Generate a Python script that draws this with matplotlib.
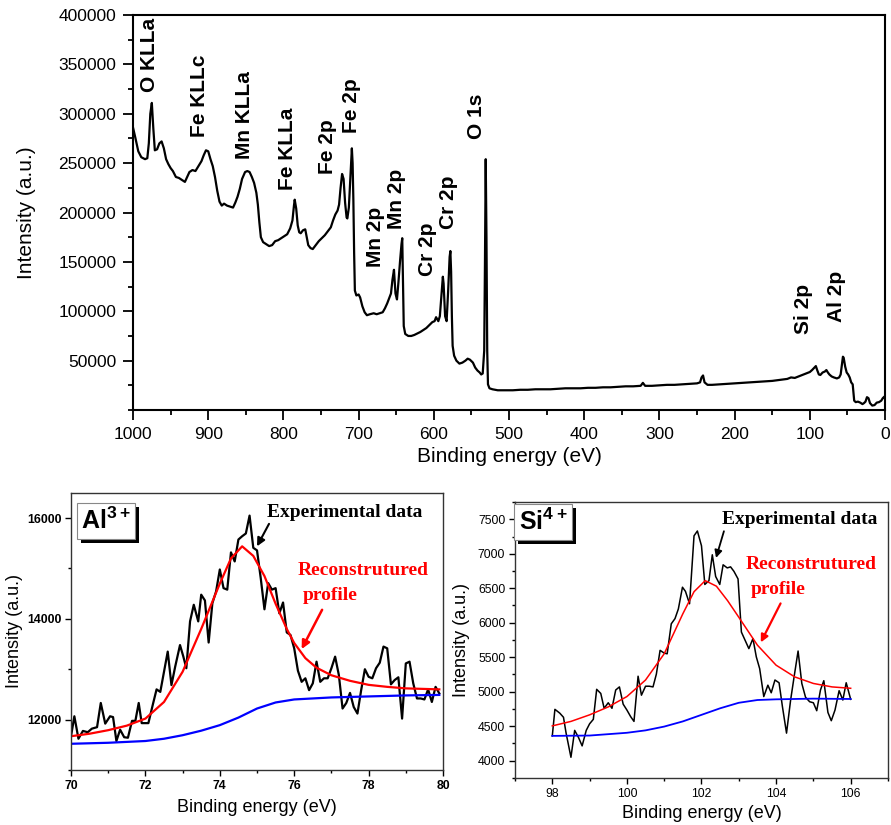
import matplotlib
matplotlib.use('Agg')
import matplotlib.pyplot as plt
from matplotlib.patches import Rectangle
from matplotlib.transforms import IdentityTransform
from matplotlib.ticker import MultipleLocator


plt.rcParams['font.family'] = ['Liberation Sans', 'DejaVu Sans']
plt.rcParams['mathtext.fontset'] = 'custom'
plt.rcParams['mathtext.rm'] = 'Liberation Sans'
plt.rcParams['mathtext.bf'] = 'Liberation Sans:bold'

# espectro survey (energia de ligação em eV, contagens)
survey_be = [
    1000, 997, 993, 989, 984, 981, 979, 977, 975, 973,
    971, 968, 965, 962, 959, 956, 953, 950, 947, 943,
    939, 935, 931, 928, 925, 921, 917, 913, 909, 906,
    903, 900, 897, 894, 891, 888, 885, 882, 879, 875,
    871, 867, 864, 861, 858, 855, 851, 848, 845, 842,
    839, 836, 834, 832, 830, 827, 823, 819, 815, 811,
    807, 803, 799, 795, 791, 788, 786, 785, 783, 781,
    779, 777, 774, 771, 769, 767, 764, 761, 757, 753,
    749, 745, 741, 737, 734, 731, 728, 726, 724, 722,
    720, 718, 716, 715, 713, 711, 709, 708, 707, 706,
    705, 703, 700, 698, 695, 692, 689, 685, 680, 676,
    672, 668, 665, 662, 660, 657, 655, 653, 651, 649,
    647, 645, 643, 642, 641, 640, 638, 634, 630, 626,
    622, 618, 614, 610, 606, 602, 599, 597, 594, 592,
    590, 588, 587, 585, 583, 581, 579, 578, 577, 576,
    575, 573, 570, 566, 562, 558, 555, 552, 548, 545,
    542, 539, 537, 535, 533, 532, 531, 530, 529, 528,
    526, 522, 515, 505, 495, 485, 475, 465, 455, 445,
    435, 425, 415, 405, 395, 385, 375, 365, 355, 345,
    335, 325, 322, 319, 310, 300, 290, 280, 270, 260,
    250, 246, 244, 242, 240, 236, 230, 220, 210, 200,
    190, 180, 170, 160, 150, 140, 130, 125, 120, 115,
    110, 105, 100, 97, 94, 92, 90, 88, 86, 83,
    80, 78, 76, 74, 71, 68, 64, 61, 59, 57,
    56, 55, 53, 51, 49, 47, 45, 43, 42, 41,
    39, 36, 33, 30, 28, 26, 24, 22, 20, 17,
    14, 11, 8, 5, 3, 1, 0,
]
survey_counts = [
    286000, 276000, 262000, 256000, 254000, 255000, 270000, 300000, 311000, 285000,
    263000, 264000, 270000, 272000, 265000, 254000, 249000, 245000, 242000, 236000,
    235000, 233000, 231000, 236000, 241000, 243000, 242000, 247000, 252000, 258000,
    263000, 262000, 254000, 247000, 236000, 222000, 211000, 207000, 209000, 207000,
    206000, 205000, 210000, 216000, 224000, 234000, 241000, 242000, 241000, 236000,
    230000, 220000, 208000, 190000, 175000, 170000, 168000, 166000, 167000, 171000,
    172000, 174000, 176000, 178000, 184000, 192000, 207000, 213000, 204000, 187000,
    180000, 179000, 182000, 183000, 175000, 167000, 164000, 163000, 167000, 171000,
    174000, 177000, 181000, 185000, 192000, 198000, 202000, 208000, 225000, 239000,
    234000, 210000, 195000, 194000, 205000, 235000, 265000, 250000, 213000, 160000,
    121000, 116000, 117000, 114000, 105000, 99000, 96000, 97000, 98000, 97000,
    98000, 99000, 103000, 108000, 112000, 118000, 132000, 142000, 118000, 112000,
    130000, 150000, 168000, 174000, 130000, 85000, 77000, 75000, 75000, 76000,
    77500, 79000, 81000, 83000, 86000, 89000, 90000, 94000, 90000, 95000,
    115000, 135000, 128000, 95000, 90000, 120000, 155000, 161000, 140000, 95000,
    65000, 55000, 50000, 47000, 48000, 50000, 52000, 51000, 48000, 43000,
    40000, 38000, 36000, 37000, 60000, 150000, 254000, 175000, 60000, 26000,
    22000, 21000, 20000, 20000, 20000, 20500, 20500, 21000, 21000, 21000,
    21500, 22000, 22000, 22000, 22500, 22500, 23000, 23000, 23500, 24000,
    24000, 24500, 27500, 24500, 24500, 25000, 25500, 25500, 26000, 26500,
    27000, 28000, 33000, 35000, 28000, 25500, 25500, 26000, 26500, 27000,
    27500, 28000, 28500, 29000, 29500, 30500, 31500, 33000, 32500, 34000,
    35500, 37000, 38500, 40500, 43000, 44500, 40000, 36000, 35500, 38000,
    39000, 40500, 38000, 36000, 34000, 33000, 32000, 33000, 36000, 48000,
    54000, 53000, 44000, 38000, 36000, 33000, 28000, 26000, 18000, 9500,
    8000, 8500, 7500, 6000, 7000, 8500, 13000, 12000, 7000, 4500,
    5000, 7500, 8000, 9500, 12000, 13500, 12000,
]

# rótulos dos picos: texto, energia e altura da base do texto
peak_names = ['O KLLa', 'Fe KLLc', 'Mn KLLa', 'Fe KLLa', 'Fe 2p', 'Fe 2p', 'Mn 2p',
              'Mn 2p', 'Cr 2p', 'Cr 2p', 'O 1s', 'Si 2p', 'Al 2p']
peak_be = [978, 911, 852, 795, 742, 709, 678, 649, 609, 581, 543, 108, 65]
peak_y = [322000, 276000, 254000, 223000, 239000, 281000, 145000, 183000, 136000,
          183000, 274000, 77000, 89000]

# Al 2p - dados experimentais
al_be = [
    70.0, 70.09, 70.2, 70.32, 70.45, 70.56, 70.7, 70.8, 70.92, 71.05,
    71.13, 71.22, 71.32, 71.43, 71.53, 71.64, 71.73, 71.82, 71.9, 72.08,
    72.2, 72.3, 72.4, 72.5, 72.6, 72.7, 72.8, 72.93, 73.02, 73.1,
    73.2, 73.3, 73.42, 73.5, 73.6, 73.7, 73.8, 73.9, 74.0, 74.1,
    74.2, 74.3, 74.4, 74.5, 74.6, 74.7, 74.8, 74.9, 75.0, 75.1,
    75.2, 75.3, 75.4, 75.5, 75.6, 75.7, 75.8, 75.9, 76.0, 76.1,
    76.2, 76.3, 76.4, 76.5, 76.6, 76.7, 76.8, 76.9, 77.0, 77.1,
    77.2, 77.3, 77.4, 77.5, 77.6, 77.7, 77.8, 77.9, 78.0, 78.1,
    78.2, 78.3, 78.4, 78.5, 78.6, 78.7, 78.8, 78.9, 79.0, 79.1,
    79.2, 79.3, 79.4, 79.5, 79.6, 79.7, 79.8, 79.9,
]
al_counts = [
    11670, 12066, 11620, 11775, 11750, 11820, 11850, 12330, 11920, 12066,
    12050, 11575, 11800, 11650, 11640, 11975, 11975, 12330, 11930, 11930,
    12300, 12600, 12550, 12950, 13350, 12685, 13050, 13480, 13250, 13020,
    13950, 14280, 13950, 14480, 14365, 13530, 14310, 14545, 14980, 14610,
    14580, 15320, 15140, 15575, 15640, 15695, 16050, 15410, 15360, 14810,
    14190, 14710, 14580, 14610, 14110, 14325, 13730, 13680, 13415, 12970,
    12750, 12820, 12585, 12720, 13150, 12750, 12820, 12820, 13020, 13250,
    12885, 12220, 12330, 12530, 12250, 12120, 12585, 13000, 12850, 12820,
    13020, 13130, 13450, 13415, 12700, 12785, 12840, 12020, 13115, 13150,
    12720, 12420, 12420, 12400, 12600, 12350, 12650, 12520,
]
al_fit_be = [70.0, 70.5, 71.0, 71.5, 72.0, 72.5, 73.0, 73.5, 74.0, 74.3,
             74.6, 74.9, 75.2, 75.5, 75.8, 76.0, 76.3, 76.6, 77.0, 77.5,
             78.0, 78.5, 79.0, 79.9]
al_fit = [11670, 11720, 11790, 11880, 12020, 12350, 12950, 13800, 14700, 15200,
          15440, 15250, 14850, 14300, 13800, 13520, 13220, 13030, 12880, 12770,
          12690, 12650, 12620, 12600]
al_bg_be = [70.0, 71.0, 72.0, 72.5, 73.0, 73.5, 74.0, 74.5, 75.0, 75.5,
            76.0, 76.5, 77.0, 78.0, 79.0, 79.9]
al_bg = [11520, 11540, 11575, 11620, 11690, 11780, 11890, 12040, 12220, 12340,
         12400, 12420, 12440, 12460, 12480, 12490]

# Si 2p - dados experimentais
si_be = [
    98.0, 98.07, 98.2, 98.3, 98.37, 98.5, 98.6, 98.7, 98.8, 98.91,
    99.0, 99.1, 99.19, 99.3, 99.39, 99.5, 99.6, 99.7, 99.8, 99.9,
    100.0, 100.1, 100.19, 100.3, 100.39, 100.5, 100.6, 100.7, 100.79, 100.89,
    101.0, 101.08, 101.19, 101.29, 101.38, 101.49, 101.57, 101.68, 101.8, 101.89,
    102.0, 102.09, 102.2, 102.29, 102.38, 102.49, 102.58, 102.69, 102.78, 102.87,
    102.98, 103.07, 103.17, 103.27, 103.38, 103.47, 103.56, 103.67, 103.78, 103.87,
    103.97, 104.08, 104.17, 104.28, 104.39, 104.48, 104.59, 104.69, 104.79, 104.9,
    105.0, 105.09, 105.19, 105.28, 105.39, 105.48, 105.58, 105.69, 105.79, 105.88,
    106.0,
]
si_counts = [
    4360, 4745, 4690, 4630, 4400, 4050, 4440, 4340, 4215, 4440,
    4535, 4600, 5035, 4975, 4760, 4840, 4760, 5025, 5070, 4820,
    4735, 4640, 4570, 5225, 4950, 5080, 5080, 5070, 5255, 5600,
    5560, 5550, 5985, 6060, 6200, 6515, 6455, 6275, 7260, 7330,
    7115, 6555, 6610, 6985, 6670, 6555, 6840, 6795, 6810, 6745,
    6635, 5865, 5745, 5625, 5770, 5505, 5335, 4930, 5095, 4985,
    5170, 5130, 4785, 4400, 4880, 5205, 5590, 5120, 4920, 4855,
    4840, 4725, 5025, 5160, 4700, 4580, 4735, 5015, 4880, 5130,
    4890,
]
si_fit_be = [98.0, 98.5, 99.0, 99.5, 100.0, 100.5, 101.0, 101.5, 101.8, 102.1,
             102.4, 102.7, 103.0, 103.5, 104.0, 104.5, 105.0, 105.5, 106.0]
si_fit = [4505, 4570, 4665, 4780, 4930, 5170, 5550, 6130, 6450, 6610,
          6530, 6320, 6080, 5675, 5385, 5215, 5120, 5070, 5050]
si_bg_be = [98.0, 99.0, 100.0, 100.5, 101.0, 101.5, 102.0, 102.5, 103.0, 103.5,
            104.0, 105.0, 106.0]
si_bg = [4360, 4365, 4405, 4440, 4495, 4570, 4665, 4760, 4840, 4880,
         4890, 4900, 4895]


fig = plt.figure(figsize=(8.91, 8.25), dpi=100)

# ---------- survey ----------
ax = fig.add_axes([0.1493, 0.503, 0.844, 0.4788])
ax.plot(survey_be, survey_counts, color='black', lw=1.6)
ax.set_xlim(1000, 0)
ax.set_ylim(0, 400000)
ax.xaxis.set_major_locator(MultipleLocator(100))
ax.xaxis.set_minor_locator(MultipleLocator(50))
ax.set_yticks(range(50000, 400001, 50000))
ax.yaxis.set_minor_locator(MultipleLocator(25000))
ax.tick_params(which='major', length=7, width=1.3, labelsize=12.5, pad=5)
ax.tick_params(which='minor', length=3.5, width=1.3)
for s in ax.spines.values():
    s.set_linewidth(1.5)
ax.set_xlabel('Binding energy (eV)', fontsize=15, labelpad=4)
ax.set_ylabel('Intensity (a.u.)', fontsize=15, labelpad=16)

for nome, e, y in zip(peak_names, peak_be, peak_y):
    ax.text(e, y, nome, rotation=90, ha='center', va='bottom',
            fontsize=15, fontweight='bold', clip_on=False)


caixas = []


def caixa_ion(ax, x, y, texto):
    # caixa branca; a sombra preta entra depois, quando o tamanho da caixa for conhecido
    t = ax.text(x, y, texto, transform=ax.transAxes, fontsize=18, ha='center',
                va='center', color='black', zorder=6,
                bbox=dict(boxstyle='square,pad=0.18', fc='white', ec='#888888', lw=0.8))
    caixas.append((ax, t))


serif = ['Liberation Serif', 'DejaVu Serif']

# ---------- Al 2p ----------
ax2 = fig.add_axes([0.0797, 0.0667, 0.4175, 0.3358])
ax2.plot(al_be, al_counts, color='black', lw=1.6)
ax2.plot(al_fit_be, al_fit, color='#ff0000', lw=1.6)
ax2.plot(al_bg_be, al_bg, color='#0000ff', lw=1.6)
ax2.set_xlim(70, 80)
ax2.set_ylim(11000, 16500)
ax2.xaxis.set_major_locator(MultipleLocator(2))
ax2.xaxis.set_minor_locator(MultipleLocator(1))
ax2.yaxis.set_major_locator(MultipleLocator(2000))
ax2.yaxis.set_minor_locator(MultipleLocator(1000))
ax2.tick_params(which='major', length=4, width=1, labelsize=8.8, pad=3)
ax2.tick_params(which='minor', length=2.5, width=1)
for lab in ax2.get_xticklabels() + ax2.get_yticklabels():
    lab.set_fontweight('bold')
for s in ax2.spines.values():
    s.set_linewidth(1)
    s.set_color('#333333')
ax2.set_xlabel('Binding energy (eV)', fontsize=13, labelpad=5)
ax2.set_ylabel('Intensity (a.u.)', fontsize=13, labelpad=3)
caixa_ion(ax2, 0.094, 0.899, r'$\mathbf{Al}^{\mathbf{3+}}$')

ax2.annotate('Experimental data', xy=(75.0, 15440), xytext=(77.35, 16110),
             fontsize=14, fontweight='bold', family=serif, ha='center', va='center',
             arrowprops=dict(arrowstyle='-|>', color='black', lw=1.5,
                             mutation_scale=12, shrinkA=0,
                             relpos=(0.03, 0.1), shrinkB=0))
ax2.text(76.08, 14960, 'Reconstrutured', color='#ff0000', fontsize=14,
         fontweight='bold', family=serif, ha='left', va='center')
ax2.text(76.22, 14470, 'profile', color='#ff0000', fontsize=14,
         fontweight='bold', family=serif, ha='left', va='center')
ax2.annotate('', xy=(76.2, 13400), xytext=(76.75, 14180),
             arrowprops=dict(arrowstyle='-|>', color='#ff0000', lw=1.8,
                             mutation_scale=12, shrinkA=0, shrinkB=0))

# ---------- Si 2p ----------
ax3 = fig.add_axes([0.578, 0.057, 0.4186, 0.3345])
ax3.plot(si_be, si_counts, color='black', lw=1.1)
ax3.plot(si_fit_be, si_fit, color='#ff0000', lw=1.1)
ax3.plot(si_bg_be, si_bg, color='#0000ff', lw=1.3)
ax3.set_xlim(97, 107)
ax3.set_xticks([98, 100, 102, 104, 106])
ax3.xaxis.set_minor_locator(MultipleLocator(1))
ax3.set_ylim(3750, 7750)
ax3.set_yticks(range(4000, 7501, 500))
ax3.yaxis.set_minor_locator(MultipleLocator(250))
ax3.tick_params(which='major', length=4, width=1, labelsize=8.8, pad=3)
ax3.tick_params(which='minor', length=2.5, width=1)
for s in ax3.spines.values():
    s.set_linewidth(1)
    s.set_color('#333333')
ax3.set_xlabel('Binding energy (eV)', fontsize=13, labelpad=4)
ax3.set_ylabel('Intensity (a.u.)', fontsize=13, labelpad=6)
caixa_ion(ax3, 0.075, 0.928, r'$\mathbf{Si}^{\mathbf{4+}}$')

ax3.annotate('Experimental data', xy=(102.39, 6940), xytext=(104.63, 7490),
             fontsize=14, fontweight='bold', family=serif, ha='center', va='center',
             arrowprops=dict(arrowstyle='-|>', color='black', lw=1.3,
                             mutation_scale=11, shrinkA=0, shrinkB=0,
                             relpos=(0.02, 0.05)))
ax3.text(103.19, 6850, 'Reconstrutured', color='#ff0000', fontsize=14,
         fontweight='bold', family=serif, ha='left', va='center')
ax3.text(103.32, 6480, 'profile', color='#ff0000', fontsize=14,
         fontweight='bold', family=serif, ha='left', va='center')
ax3.annotate('', xy=(103.59, 5715), xytext=(104.12, 6280),
             arrowprops=dict(arrowstyle='-|>', color='#ff0000', lw=1.6,
                             mutation_scale=11, shrinkA=0, shrinkB=0))

# sombra das caixas dos íons (4 px para a direita e para baixo)
fig.canvas.draw()
for a, t in caixas:
    bb = t.get_bbox_patch().get_window_extent()
    sombra = Rectangle((bb.x0 + 4, bb.y0 - 4), bb.width, bb.height,
                       transform=IdentityTransform(), fc='black', ec='none', zorder=5)
    a.add_artist(sombra)

fig.savefig('out.png', dpi=100)
